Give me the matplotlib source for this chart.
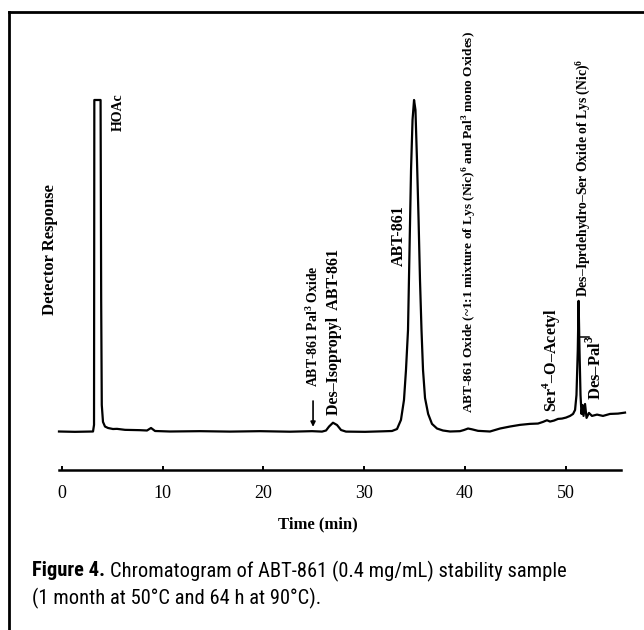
import matplotlib
matplotlib.use("Agg")
import matplotlib.pyplot as plt
from matplotlib import font_manager
from matplotlib.lines import Line2D

# ---------------- data ----------------
time_min = [-0.30, 1.29, 3.08, 3.18, 3.21, 3.83, 3.89, 3.95, 4.07, 4.27, 4.57, 5.06, 5.46,
            6.26, 7.75, 8.44, 8.84, 9.24, 10.72, 13.70, 16.68, 19.66, 22.64, 24.83, 25.82,
            26.22, 26.52, 26.91, 27.31, 27.71, 28.20, 30.09, 31.88, 32.77,
            33.27, 33.66, 33.96, 34.16, 34.36, 34.51, 34.66, 34.81, 34.96, 35.10, 35.25,
            35.41, 35.55, 35.70, 35.85, 36.05, 36.36, 36.74, 37.24, 37.83, 38.53,
            39.52, 39.92, 40.32, 40.71, 41.31, 42.50, 43.50, 44.49, 45.48, 46.47, 47.27,
            47.77, 48.16, 48.46, 48.86, 49.26, 49.65, 50.05, 50.45, 50.75, 50.95, 51.09,
            51.22, 51.30, 51.39, 51.49, 51.59, 51.69, 51.79, 51.94, 52.09, 52.33, 52.63,
            53.13, 53.72, 54.42, 55.21, 55.91]
response = [0.0, -0.1, 0.0, 2.0, 100.0, 100.0, 39.7, 8.0, 2.9, 1.5, 1.06, 0.75, 0.8,
            0.5, 0.4, 0.3, 1.06, 0.15, 0.0, 0.1, -0.03, 0.1, -0.06, 0.1, -0.03,
            0.3, 1.5, 2.65, 1.96, 0.45, -0.03, -0.1, 0.06, 0.15,
            0.75, 3.5, 9.5, 18.6, 30.6, 54.8, 78.9, 94.0, 100.0, 97.0, 81.9,
            63.8, 45.7, 30.6, 18.6, 10.1, 5.3, 2.3, 0.9, 0.3, 0.0,
            0.1, 0.45, 0.9, 0.66, 0.2, 0.0, 0.9, 1.5, 2.0, 2.3, 2.4,
            2.9, 3.4, 3.0, 3.3, 3.8, 3.9, 4.2, 4.7, 5.3, 6.5, 11.0,
            24.6, 39.4, 24.6, 11.0, 5.3, 8.0, 4.7, 8.3, 4.1, 5.6, 4.7,
            5.1, 4.7, 5.3, 5.4, 5.7]

x_ticks = [0, 10, 20, 30, 40, 50]
x_tick_labels = ["0", "10", "20", "30", "40", "50"]

peak_labels = ["HOAc", "ABT-861", r"Des–Isopropyl  ABT-861",
               r"ABT-861 Pal$^{\mathbf{3}}$ Oxide",
               r"ABT-861 Oxide (~1:1 mixture of Lys (Nic)$^{\mathbf{6}}$ and Pal$^{\mathbf{3}}$ mono Oxides)",
               r"Ser$^{\mathbf{4}}$–O–Acetyl",
               r"Des–Iprdehydro–Ser Oxide of Lys (Nic)$^{\mathbf{6}}$",
               r"Des–Pal$^{\mathbf{3}}$"]

# ---------------- fonts ----------------
ttf = font_manager.fontManager.ttflist
avail = {f.name for f in ttf}
serif = "Liberation Serif" if "Liberation Serif" in avail else "DejaVu Serif"
cap_font, cap_stretch, cap_size = None, "normal", 14.75
for name in ["Liberation Sans Narrow", "Roboto Condensed", "Open Sans Condensed",
             "Noto Sans Condensed", "DejaVu Sans Condensed"]:
    if name in avail:
        cap_font = name
        break
if cap_font is None:
    for f in ttf:
        if f.name in ("Noto Sans", "Roboto", "Open Sans", "DejaVu Sans", "Lato", "Inter") and \
                str(f.stretch) in ("condensed", "semi-condensed", "75", "87.5"):
            cap_font, cap_stretch = f.name, f.stretch
            break
if cap_font is None:
    cap_font = "Liberation Sans" if "Liberation Sans" in avail else "DejaVu Sans"
    cap_size = 13.2

plt.rcParams["mathtext.fontset"] = "custom"
plt.rcParams["mathtext.rm"] = serif
plt.rcParams["mathtext.bf"] = serif + ":bold"
plt.rcParams["font.family"] = [serif, "DejaVu Serif"]

W, H = 644, 630
fig = plt.figure(figsize=(W / 100, H / 100), dpi=100)


def fr(x0, y_top, w, h):
    return [x0 / W, 1 - (y_top + h) / H, w / W, h / H]


# ---------------- chromatogram ----------------
ax = fig.add_axes(fr(50, 20, 580, 420))
ax.plot(time_min, response, color="black", lw=1.6, solid_joinstyle="round")
ax.set_xlim(-1.192, 56.405)
ax.set_ylim(-2.564, 124.13)
ax.axis("off")

tb = dict(rotation=90, ha="center", va="bottom", color="black", fontweight="bold",
          clip_on=False)
ax.text(5.56, 90.6, peak_labels[0], fontsize=10, **tb)
ax.text(33.47, 49.9, peak_labels[1], fontsize=11.5, **tb)
ax.text(27.01, 5.0, peak_labels[2], fontsize=11.5, **tb)
ax.text(24.93, 13.4, peak_labels[3], fontsize=9.9, **tb)
ax.text(40.52, 5.6, peak_labels[4], fontsize=9.6, **tb)
ax.text(48.56, 5.9, peak_labels[5], fontsize=11.6, **tb)
ax.text(51.74, 40.6, peak_labels[6], fontsize=9.8, **tb)
ax.text(52.93, 9.5, peak_labels[7], fontsize=12, **tb)

ax.annotate("", xy=(24.93, 1.4), xytext=(24.93, 9.2),
            arrowprops=dict(arrowstyle="-|>", lw=1.2, color="black", mutation_scale=7,
                            shrinkA=0, shrinkB=0))
ax.plot([51.45, 52.35], [28.5, 28.5], color="black", lw=1.1)

# ---------------- time axis ----------------
ax2 = fig.add_axes(fr(50, 469.5, 580, 0.5))
ax2.set_xlim(-1.192, 56.405)
for s in ("top", "left", "right"):
    ax2.spines[s].set_visible(False)
ax2.spines["bottom"].set_bounds(-0.3, 55.5)
ax2.spines["bottom"].set_linewidth(1.8)
ax2.set_yticks([])
ax2.set_xticks(x_ticks)
ax2.set_xticklabels(x_tick_labels)
ax2.tick_params(axis="x", direction="in", length=3, width=1.4, pad=11, labelsize=13)
ax2.patch.set_visible(False)

fig.text(318 / W, 1 - 524 / H, "Time (min)", ha="center", va="center",
         fontsize=12, fontweight="bold")
fig.text(50 / W, 1 - 250 / H, "Detector Response", ha="center", va="center",
         rotation=90, fontsize=12, fontweight="bold")

# ---------------- frame ----------------
fig.add_artist(Line2D([9 / W, 1.0], [1 - 12 / H, 1 - 12 / H], color="black", lw=2.0,
                      transform=fig.transFigure))
fig.add_artist(Line2D([9 / W, 9 / W], [1 - 12 / H, 0.0], color="black", lw=2.0,
                      transform=fig.transFigure))

# ---------------- caption ----------------
renderer = fig.canvas.get_renderer()
cap_kw = dict(fontsize=cap_size, family=cap_font, stretch=cap_stretch)
c1 = fig.text(32 / W, 1 - 571 / H, "Figure 4.", ha="left", va="center",
              fontweight="bold", **cap_kw)
bb = c1.get_window_extent(renderer=renderer)
fig.text(bb.x1 / W + 5 / W, 1 - 571 / H,
         "Chromatogram of ABT-861 (0.4 mg/mL) stability sample",
         ha="left", va="center", **cap_kw)
fig.text(32 / W, 1 - 598 / H, "(1 month at 50°C and 64 h at 90°C).", ha="left",
         va="center", **cap_kw)

fig.savefig("out.png", dpi=100)
